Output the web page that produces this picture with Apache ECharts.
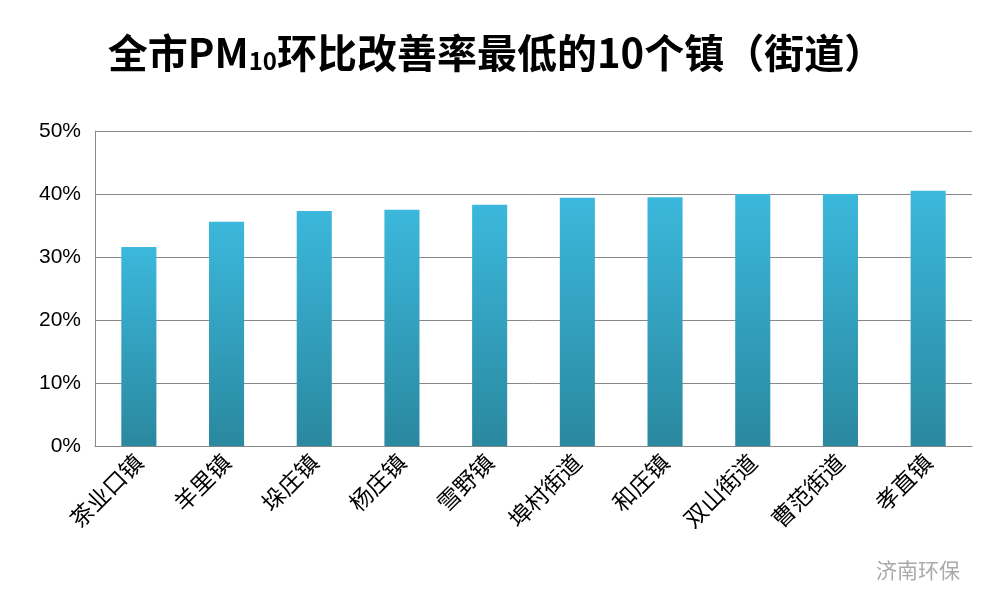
<!DOCTYPE html>
<html>
<head>
<meta charset="utf-8">
<script src="https://cdn.jsdelivr.net/npm/echarts@6/dist/echarts.min.js"></script>
<style>html,body{margin:0;padding:0;background:#fff}#main{width:992px;height:609px}</style>
</head>
<body>
<div id="main"></div>
<script>
// categories and values
const towns = ["茶业口镇", "羊里镇", "垛庄镇", "杨庄镇", "雪野镇", "埠村街道", "和庄镇", "双山街道", "曹范街道", "孝直镇"];
const rates = [31.6, 35.6, 37.3, 37.5, 38.3, 39.4, 39.5, 40.0, 40.0, 40.5];
const yTicks = [0, 10, 20, 30, 40, 50];

const font = "Noto Sans CJK SC";
var myChart = echarts.init(document.getElementById("main"));
var option = {
  animation: false,
  title: {
    text: "{a|全市PM}{s|10}{a|环比改善率最低的10个镇（街道）}",
    left: "center",
    top: 12,
    textStyle: {
      rich: {
        a: { fontSize: 40, fontWeight: "bold", color: "#000", fontFamily: font, verticalAlign: "bottom", lineHeight: 56 },
        s: { fontSize: 24, fontWeight: "bold", color: "#000", fontFamily: font, verticalAlign: "bottom", lineHeight: 40 }
      }
    }
  },
  graphic: [{
    type: "text", right: 32, bottom: 28,
    style: { text: "济南环保", fill: "#aaa", font: "21px 'Noto Sans CJK SC'" }
  }],
  grid: { left: 95, right: 20, top: 131, bottom: 163 },
  xAxis: {
    type: "category",
    data: towns,
    axisTick: { show: false },
    axisLine: { lineStyle: { color: "#888" } },
    axisLabel: { rotate: 45, color: "#000", fontSize: 23, fontFamily: font, margin: 12 }
  },
  yAxis: {
    type: "value",
    min: yTicks[0], max: yTicks[yTicks.length - 1], interval: 10,
    axisLine: { show: true, lineStyle: { color: "#888" } },
    axisTick: { show: false },
    splitLine: { lineStyle: { color: "#888" } },
    axisLabel: { formatter: "{value}%", color: "#000", fontSize: 21, fontFamily: "Liberation Sans", margin: 14 }
  },
  series: [{
    type: "bar",
    data: rates,
    barWidth: "40%",
    itemStyle: {
      color: new echarts.graphic.LinearGradient(0, 0, 0, 1, [
        { offset: 0, color: "#3bb8dc" },
        { offset: 1, color: "#2a889f" }
      ])
    }
  }]
};
myChart.setOption(option);
</script>
</body>
</html>
